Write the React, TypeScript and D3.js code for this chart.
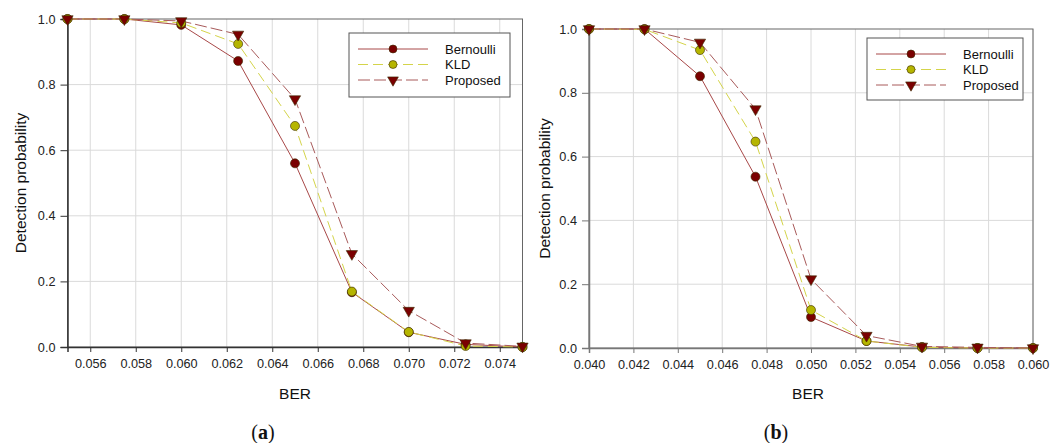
import React, { useEffect, useRef } from 'react';
import * as d3 from 'd3';

// panel (a)
const berA = [0.055, 0.0575, 0.06, 0.0625, 0.065, 0.0675, 0.07, 0.0725, 0.075];
const bernoulliA = [1, 1, 0.982, 0.872, 0.56, 0.167, 0.045, 0.008, 0];
const kldA = [1, 1, 0.988, 0.924, 0.674, 0.169, 0.046, 0.003, 0];
const proposedA = [1, 1, 0.994, 0.953, 0.756, 0.284, 0.111, 0.012, 0.002];
const xTicksA = [0.056, 0.058, 0.06, 0.062, 0.064, 0.066, 0.068, 0.07, 0.072, 0.074];

// panel (b)
const berB = [0.04, 0.0425, 0.045, 0.0475, 0.05, 0.0525, 0.055, 0.0575, 0.06];
const bernoulliB = [1, 1, 0.852, 0.537, 0.097, 0.022, 0.003, 0, 0];
const kldB = [1, 0.999, 0.934, 0.647, 0.119, 0.022, 0.002, 0, 0];
const proposedB = [1, 1, 0.958, 0.749, 0.216, 0.039, 0.005, 0.002, 0];
const xTicksB = [0.04, 0.042, 0.044, 0.046, 0.048, 0.05, 0.052, 0.054, 0.056, 0.058, 0.06];

const yTicks = [0, 0.2, 0.4, 0.6, 0.8, 1.0];
const seriesNames = ['Bernoulli', 'KLD', 'Proposed'];

const FONT = '"Liberation Sans", Arial, sans-serif';

const styles = [
  { line: '#a84848', dash: null, fill: '#7a0000', shape: 'circle' },
  { line: '#d4d44a', dash: '10,5', fill: '#b5b500', shape: 'circle' },
  { line: '#a85a5a', dash: '12,4', fill: '#7a0000', shape: 'triangle' },
];

const panels = [
  {
    x: berA, series: [bernoulliA, kldA, proposedA], xTicks: xTicksA,
    domain: [0.055, 0.075], left: 67.5, right: 522.5, top: 19, bottom: 347,
    axisColor: '#333', legend: { x: 349, y: 33, w: 161, h: 64 },
    label: 'a', berX: 295, yLabelX: 20,
  },
  {
    x: berB, series: [bernoulliB, kldB, proposedB], xTicks: xTicksB,
    domain: [0.04, 0.06], left: 589, right: 1033, top: 29, bottom: 348,
    axisColor: '#777', legend: { x: 867, y: 38, w: 156, h: 62 },
    label: 'b', berX: 808, yLabelX: 544,
  },
];

export default function App() {
  const svgRef = useRef(null);

  useEffect(() => {
    const svg = d3.select(svgRef.current);
    svg.selectAll('*').remove();

    panels.forEach((p) => {
      const xScale = d3.scaleLinear().domain(p.domain).range([p.left, p.right]);
      const yScale = d3.scaleLinear().domain([0, 1]).range([p.bottom, p.top]);
      const g = svg.append('g');

      // grid
      g.selectAll('line.vgrid')
        .data(p.xTicks)
        .join('line')
        .attr('x1', (d) => xScale(d)).attr('x2', (d) => xScale(d))
        .attr('y1', p.top).attr('y2', p.bottom)
        .attr('stroke', '#dadada').attr('stroke-width', 1);
      g.selectAll('line.hgrid')
        .data(yTicks.filter((d) => d > 0 && d < 1))
        .join('line')
        .attr('x1', p.left).attr('x2', p.right)
        .attr('y1', (d) => yScale(d)).attr('y2', (d) => yScale(d))
        .attr('stroke', '#dadada').attr('stroke-width', 1);

      // frame
      g.append('rect')
        .attr('x', p.left).attr('y', p.top)
        .attr('width', p.right - p.left).attr('height', p.bottom - p.top)
        .attr('fill', 'none').attr('stroke', '#666').attr('stroke-width', 1);

      // axes
      const xAxis = g.append('g')
        .attr('transform', `translate(0,${p.bottom})`)
        .call(d3.axisBottom(xScale).tickValues(p.xTicks).tickSize(5).tickPadding(7).tickFormat(d3.format('.3f')));
      const yAxis = g.append('g')
        .attr('transform', `translate(${p.left},0)`)
        .call(d3.axisLeft(yScale).tickValues(yTicks).tickSize(7).tickPadding(5).tickFormat(d3.format('.1f')));
      [xAxis, yAxis].forEach((ax) => {
        ax.select('.domain').attr('stroke', p.axisColor).attr('stroke-width', 1.5);
        ax.selectAll('.tick line').attr('stroke', p.axisColor);
        ax.selectAll('text')
          .attr('fill', '#222')
          .attr('font-size', 12.7)
          .attr('font-family', FONT);
      });

      // series
      p.series.forEach((vals, i) => {
        const st = styles[i];
        const pts = vals.map((v, k) => [xScale(p.x[k]), yScale(v)]);
        g.append('path')
          .attr('d', d3.line()(pts))
          .attr('fill', 'none')
          .attr('stroke', st.line)
          .attr('stroke-width', 1)
          .attr('stroke-dasharray', st.dash);
      });
      p.series.forEach((vals, i) => {
        const st = styles[i];
        const sym = st.shape === 'circle' ? d3.symbolCircle : d3.symbolTriangle;
        const size = st.shape === 'circle' ? 64 : 55;
        g.selectAll(`path.m${i}`)
          .data(vals.map((v, k) => [p.x[k], v]))
          .join('path')
          .attr('class', `m${i}`)
          .attr('d', d3.symbol(sym, size)())
          .attr('transform', (d) => `translate(${xScale(d[0])},${yScale(d[1])})${st.shape === 'triangle' ? ' rotate(180)' : ''}`)
          .attr('fill', st.fill)
          .attr('stroke', '#3a2a00')
          .attr('stroke-width', 0.6);
      });

      // legend
      const L = p.legend;
      g.append('rect')
        .attr('x', L.x).attr('y', L.y).attr('width', L.w).attr('height', L.h)
        .attr('fill', '#fff').attr('stroke', '#555').attr('stroke-width', 1);
      seriesNames.forEach((name, i) => {
        const st = styles[i];
        const ry = L.y + 16 + i * 15.5;
        const lx0 = L.x + 9, lx1 = L.x + 79, mx = L.x + 44;
        g.append('line')
          .attr('x1', lx0).attr('x2', lx1).attr('y1', ry).attr('y2', ry)
          .attr('stroke', st.line).attr('stroke-width', 1)
          .attr('stroke-dasharray', st.dash);
        const sym = st.shape === 'circle' ? d3.symbolCircle : d3.symbolTriangle;
        g.append('path')
          .attr('d', d3.symbol(sym, 50)())
          .attr('transform', `translate(${mx},${ry})${st.shape === 'triangle' ? ' rotate(180)' : ''}`)
          .attr('fill', st.fill).attr('stroke', '#3a2a00').attr('stroke-width', 0.6);
        g.append('text')
          .attr('x', L.x + 96).attr('y', ry)
          .attr('dominant-baseline', 'central')
          .attr('font-size', 13).attr('font-family', FONT).attr('fill', '#111')
          .text(name);
      });

      // axis titles
      g.append('text')
        .attr('x', p.berX).attr('y', 393)
        .attr('text-anchor', 'middle').attr('dominant-baseline', 'central')
        .attr('font-size', 15.5).attr('font-family', FONT).attr('fill', '#111')
        .text('BER');
      const ymid = (p.top + p.bottom) / 2;
      g.append('text')
        .attr('transform', `translate(${p.yLabelX},${ymid}) rotate(-90)`)
        .attr('text-anchor', 'middle').attr('dominant-baseline', 'central')
        .attr('font-size', 15.5).attr('font-family', FONT).attr('fill', '#111')
        .text('Detection probability');

      // panel label
      const lab = g.append('text')
        .attr('x', p.berX - 32).attr('y', 432)
        .attr('text-anchor', 'middle').attr('dominant-baseline', 'central')
        .attr('font-size', 20).attr('font-family', '"Liberation Serif", "Times New Roman", serif').attr('fill', '#111');
      lab.append('tspan').text('(');
      lab.append('tspan').attr('font-weight', 'bold').text(p.label);
      lab.append('tspan').text(')');
    });
  }, []);

  return (
    <div style={{ position: 'absolute', left: 0, top: 0, width: 1050, height: 443, background: '#fff' }}>
      <svg ref={svgRef} width={1050} height={443} style={{ display: 'block' }} />
    </div>
  );
}
